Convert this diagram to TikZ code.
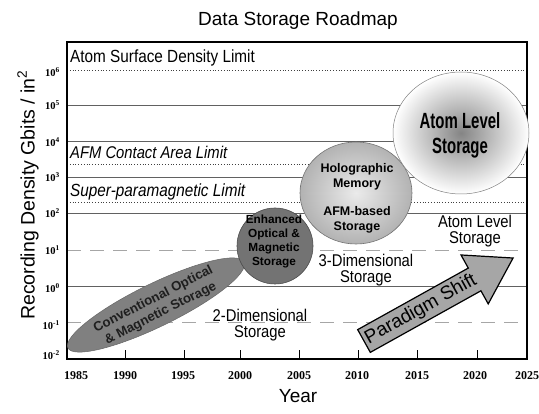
\documentclass[tikz,border=0pt]{standalone}
\usepackage{fontspec}
\setmainfont{Liberation Sans}
\newfontfamily\narrowsans[FakeStretch=0.87]{Liberation Sans}
\newfontfamily\condsans[FakeStretch=0.68]{Liberation Sans}
\newfontfamily\tickserif{Liberation Serif}
\usetikzlibrary{shapes.geometric}

\tikzset{
  gridsolid/.style={draw=black!62, line width=0.8pt},
  griddash/.style={draw=black!35, line width=0.7pt, dash pattern=on 14pt off 9pt},
  limitline/.style={draw=black!75, line width=0.9pt, dash pattern=on 0.9pt off 1.9pt},
  frameline/.style={draw=black, line width=1.2pt},
  plotlabel/.style={inner sep=0pt, font={\narrowsans\fontsize{17}{16}\selectfont}},
  ytick/.style={inner sep=0pt, anchor=east, font={\tickserif\bfseries\fontsize{10.5}{12}\selectfont}},
  xtick/.style={inner sep=0pt, font={\tickserif\bfseries\fontsize{12}{14}\selectfont}},
  boldlabel/.style={inner sep=0pt, align=center, font={\bfseries\fontsize{11.8}{14.3}\selectfont}},
}

\begin{document}
\begin{tikzpicture}[x=1pt, y=-1pt]
\useasboundingbox (0,0) rectangle (539,414);

% titles
\node[font=\fontsize{19}{22}\selectfont, inner sep=0pt] (title) at (298,21) {Data Storage Roadmap};
\node[font=\fontsize{19}{22}\selectfont, inner sep=0pt, anchor=base] (xlab) at (298,403) {Year};
\node[font=\fontsize{19.5}{22}\selectfont, inner sep=0pt, rotate=90] (ylab) at (28,195) {Recording Density Gbits / in\textsuperscript{2}};

% grid lines
\foreach \yy in {105,141,177,213,286} \draw[gridsolid] (67,\yy) -- (527,\yy);
\foreach \yy in {250,322} \draw[griddash] (67,\yy) -- (527,\yy);
\foreach \yy in {70,164,202} \draw[limitline] (67,\yy) -- (527,\yy);

% frame
\draw[frameline] (67,42) rectangle (527,359);
\foreach \xx in {125,184,240,299,358,417,477} \draw[line width=1pt] (\xx,359) -- (\xx,350);

% axis tick labels
\node[ytick] (y6) at (60,72) {10\textsuperscript{6}};
\node[ytick] (y5) at (60,105) {10\textsuperscript{5}};
\node[ytick] (y4) at (60,142) {10\textsuperscript{4}};
\node[ytick] (y3) at (60,177) {10\textsuperscript{3}};
\node[ytick] (y2) at (60,213) {10\textsuperscript{2}};
\node[ytick] (y1) at (60,250) {10\textsuperscript{1}};
\node[ytick] (y0) at (60,288) {10\textsuperscript{0}};
\node[ytick] (ym1) at (60,325) {10\textsuperscript{-1}};
\node[ytick] (ym2) at (60,355) {10\textsuperscript{-2}};

\node[xtick] (x1985) at (76,376) {1985};
\node[xtick] (x1990) at (125,376) {1990};
\node[xtick] (x1995) at (183,376) {1995};
\node[xtick] (x2000) at (240,376) {2000};
\node[xtick] (x2005) at (299,376) {2005};
\node[xtick] (x2010) at (357,376) {2010};
\node[xtick] (x2015) at (417,376) {2015};
\node[xtick] (x2020) at (475,376) {2020};
\node[xtick] (x2025) at (527,376) {2025};

% limit labels
\node[plotlabel, anchor=base west, font={\narrowsans\fontsize{17.6}{16}\selectfont}] (atomlim) at (70,63) {Atom Surface Density Limit};
\node[plotlabel, anchor=base west] (afmlim) at (70,159) {\itshape AFM Contact Area Limit};
\node[plotlabel, anchor=base west, font={\narrowsans\fontsize{17.6}{16}\selectfont}] (splim) at (70,197) {\itshape Super-paramagnetic Limit};

% era labels
\node[plotlabel, align=center] (twod) at (260,325) {2-Dimensional\\Storage};
\node[plotlabel, align=center] (threed) at (366,270) {3-Dimensional\\Storage};
\node[plotlabel, align=center] (atomera) at (475,231) {Atom Level\\Storage};

% technology bubbles
\node[ellipse, minimum width=196, minimum height=43, rotate=26, fill=black!50, draw=black!60, line width=0.5pt, inner sep=0pt] (conv) at (156,305) {};
\node[boldlabel, rotate=27, text=black!88, font={\bfseries\fontsize{13.2}{16}\selectfont}] (convtext) at (157,306.5) {Conventional Optical\\\& Magnetic Storage};

\node[circle, minimum size=76, fill=black!55, draw=black!70, line width=0.6pt, inner sep=0pt] (enh) at (275,246) {};
\node[boldlabel] (enhtext) at (274,241.5) {Enhanced\\Optical \&\\Magnetic\\Storage};

\shade[inner color=black!8, outer color=black!30] (356,193) ellipse [x radius=56, y radius=51];
\draw[black!55, line width=0.6pt] (356,193) ellipse [x radius=56, y radius=51];
\node[boldlabel, font={\bfseries\fontsize{12.5}{15}\selectfont}] (holo) at (357,198.5) {Holographic\\Memory\\[13pt]AFM-based\\Storage};

\shade[inner color=black!48, outer color=white] (461,133) ellipse [x radius=68, y radius=61];
\draw[black!50, line width=0.5pt] (461,133) ellipse [x radius=68, y radius=61];
\node[inner sep=0pt, align=center, font={\condsans\bfseries\fontsize{22}{25}\selectfont}] (atombub) at (460,135.5) {Atom Level\\Storage};

% paradigm shift arrow
\begin{scope}[shift={(364,341)}, rotate=29.1]
  \draw[fill=black!35, line width=1.2pt, line join=miter]
    (0,-13) -- (126.6,-13) -- (126.6,-28) -- (170.6,0) -- (126.6,28) -- (126.6,13) -- (0,13) -- cycle;
\end{scope}
\node[inner sep=0pt, rotate=29.1, font=\fontsize{19}{22}\selectfont] (shift) at (421,309.5) {Paradigm Shift};

\end{tikzpicture}
\end{document}
